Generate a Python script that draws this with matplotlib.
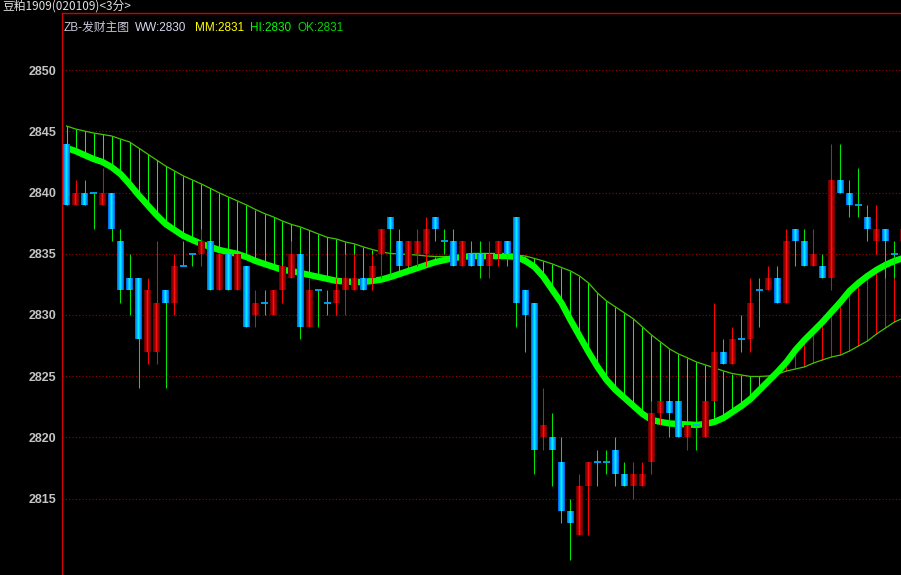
import matplotlib
matplotlib.use('Agg')
import matplotlib.pyplot as plt
import numpy as np

# ---------------- data ----------------
opens = [2844, 2839, 2840, 2840, 2839, 2840, 2836, 2833, 2833, 2827,
         2827, 2832, 2831, 2834, 2835, 2835, 2836, 2832, 2835, 2832,
         2834, 2830, 2831, 2830, 2832, 2833, 2835, 2829, 2832, 2831,
         2831, 2832, 2832, 2833, 2833, 2835, 2838, 2836, 2834, 2835,
         2835, 2838, 2836, 2836, 2834, 2835, 2835, 2834, 2835, 2836,
         2838, 2832, 2831, 2820, 2820, 2818, 2814, 2812, 2816, 2818,
         2818, 2819, 2817, 2816, 2816, 2818, 2822, 2823, 2823, 2820,
         2821, 2820, 2823, 2827, 2826, 2828, 2828, 2832, 2832, 2833,
         2831, 2837, 2836, 2834, 2834, 2833, 2841, 2840, 2839, 2838,
         2836, 2837, 2835, 2836]
highs = [2844, 2841, 2841, 2840, 2842, 2840, 2837, 2835, 2833, 2833,
         2836, 2832, 2835, 2836, 2835, 2837, 2836, 2835, 2835, 2835,
         2834, 2832, 2832, 2832, 2834, 2836, 2835, 2833, 2832, 2832,
         2833, 2835, 2835, 2833, 2835, 2837, 2838, 2837, 2836, 2837,
         2838, 2838, 2837, 2837, 2836, 2836, 2836, 2836, 2836, 2836,
         2838, 2832, 2831, 2824, 2822, 2820, 2815, 2817, 2818, 2819,
         2819, 2820, 2818, 2818, 2818, 2823, 2823, 2823, 2823, 2821,
         2821, 2823, 2831, 2828, 2829, 2830, 2833, 2833, 2834, 2834,
         2837, 2837, 2837, 2837, 2835, 2844, 2844, 2841, 2842, 2839,
         2839, 2837, 2836, 2837]
lows = [2839, 2839, 2839, 2837, 2839, 2836, 2831, 2830, 2824, 2826,
        2826, 2824, 2830, 2834, 2834, 2834, 2832, 2832, 2832, 2832,
        2829, 2829, 2830, 2830, 2831, 2833, 2828, 2829, 2829, 2830,
        2830, 2830, 2832, 2832, 2832, 2833, 2833, 2834, 2834, 2834,
        2834, 2836, 2835, 2834, 2834, 2834, 2833, 2833, 2834, 2834,
        2829, 2827, 2817, 2819, 2816, 2813, 2810, 2812, 2812, 2816,
        2817, 2816, 2816, 2815, 2816, 2817, 2821, 2820, 2820, 2819,
        2819, 2820, 2823, 2826, 2826, 2827, 2827, 2829, 2832, 2831,
        2831, 2834, 2834, 2834, 2833, 2832, 2840, 2838, 2838, 2836,
        2835, 2833, 2833, 2836]
closes = [2839, 2840, 2839, 2840, 2840, 2837, 2832, 2832, 2828, 2832,
          2831, 2831, 2834, 2834, 2835, 2836, 2832, 2835, 2832, 2835,
          2829, 2831, 2831, 2832, 2834, 2835, 2829, 2832, 2832, 2831,
          2832, 2833, 2833, 2832, 2834, 2837, 2837, 2834, 2836, 2836,
          2837, 2837, 2836, 2834, 2836, 2834, 2834, 2835, 2836, 2835,
          2831, 2830, 2819, 2821, 2819, 2814, 2813, 2816, 2818, 2818,
          2818, 2817, 2816, 2817, 2817, 2822, 2823, 2822, 2820, 2821,
          2821, 2823, 2827, 2826, 2828, 2828, 2831, 2832, 2833, 2831,
          2836, 2836, 2834, 2835, 2833, 2841, 2840, 2839, 2839, 2837,
          2837, 2836, 2835, 2837]

# thick bright-green indicator line
fast_line = [2843.64, 2843.39, 2843.06, 2842.74, 2842.49, 2842.08, 2841.51, 2840.69, 2839.80, 2838.98,
             2838.16, 2837.43, 2836.94, 2836.45, 2836.12, 2835.80, 2835.55, 2835.30, 2835.14, 2834.98,
             2834.73, 2834.41, 2834.16, 2833.92, 2833.67, 2833.59, 2833.43, 2833.26, 2833.10, 2832.94,
             2832.78, 2832.73, 2832.69, 2832.69, 2832.78, 2832.89, 2833.10, 2833.34, 2833.59, 2833.83,
             2834.08, 2834.32, 2834.48, 2834.65, 2834.73, 2834.81, 2834.81, 2834.81, 2834.81, 2834.81,
             2834.73, 2834.41, 2833.92, 2833.10, 2832.03, 2830.97, 2829.58, 2828.28, 2826.97, 2825.75,
             2824.69, 2823.87, 2823.22, 2822.56, 2821.91, 2821.42, 2821.26, 2821.13, 2821.09, 2821.05,
             2821.01, 2821.09, 2821.26, 2821.58, 2822.07, 2822.56, 2823.13, 2823.87, 2824.60, 2825.34,
             2826.15, 2827.13, 2827.95, 2828.68, 2829.42, 2830.24, 2831.05, 2831.95, 2832.61, 2833.18,
             2833.67, 2834.08, 2834.41, 2834.65]
# thin darker-green indicator line
slow_line = [2845.43, 2845.19, 2845.02, 2844.86, 2844.74, 2844.62, 2844.37, 2844.13, 2843.64, 2843.15,
             2842.66, 2842.17, 2841.76, 2841.35, 2841.02, 2840.69, 2840.33, 2839.96, 2839.63, 2839.31,
             2838.98, 2838.61, 2838.28, 2838.00, 2837.67, 2837.39, 2837.18, 2836.90, 2836.61, 2836.33,
             2836.20, 2835.96, 2835.80, 2835.55, 2835.34, 2835.14, 2835.02, 2834.98, 2834.93, 2834.89,
             2834.81, 2834.77, 2834.77, 2834.77, 2834.81, 2834.81, 2834.81, 2834.85, 2834.89, 2834.89,
             2834.89, 2834.81, 2834.61, 2834.40, 2834.16, 2833.87, 2833.59, 2833.18, 2832.61, 2831.79,
             2831.14, 2830.65, 2830.16, 2829.67, 2829.01, 2828.36, 2827.79, 2827.22, 2826.81, 2826.49,
             2826.15, 2825.91, 2825.67, 2825.42, 2825.21, 2825.09, 2824.97, 2824.97, 2825.01, 2825.17,
             2825.42, 2825.58, 2825.75, 2826.07, 2826.32, 2826.56, 2826.72, 2827.05, 2827.46, 2827.87,
             2828.44, 2828.93, 2829.42, 2829.75]

yticks = [2815, 2820, 2825, 2830, 2835, 2840, 2845, 2850]
title_text = '豆粕1909(020109)<3分>'
legend_items = [('ZB-发财主图', '#c8c8d8', 64),
                ('WW:2830', '#d8d8f0', 135),
                ('MM:2831', '#ffff00', 195),
                ('HI:2830', '#00ff00', 250),
                ('OK:2831', '#00d800', 298)]

# ---------------- figure ----------------
W, H = 901, 575
fig = plt.figure(figsize=(W / 100, H / 100), dpi=100, facecolor='black')
top_px = 12.5
ax = fig.add_axes([62 / W, 0, (W - 62) / W, (H - top_px) / H])
ax.set_facecolor('black')

o = np.array(opens, float); h = np.array(highs, float)
l = np.array(lows, float); c = np.array(closes, float)
x = np.arange(len(o))
fast = np.array(fast_line); slow = np.array(slow_line)

# grid
for t in yticks:
    ax.axhline(t, color='#a00000', lw=0.8, ls=(0, (1, 2)), zorder=0)

# hatch between the two lines
hcol = np.where(slow >= fast, '#00ff00', '#ff0000')
ax.vlines(x, np.minimum(slow, fast), np.maximum(slow, fast), colors=hcol, lw=0.75, zorder=1)
ax.plot(x, slow, color='#44c400', lw=0.9, zorder=2)
ax.plot(x, fast, color='#00ff00', lw=4.6, zorder=2, solid_capstyle='butt')

up = c > o
dn = c < o
dj = c == o

# wicks
wcol = np.where(up, '#ff0000', '#00e600')
ax.vlines(x, l, h, colors=wcol, lw=0.75, zorder=3)

# bodies with gradient stripes
red_cols = ['#6c0000', '#8c0000', '#c00000', '#ff1010', '#c00000', '#8c0000', '#6c0000']
blue_cols = ['#0070f0', '#0098ff', '#00c8ff', '#00eeff', '#00c0ff', '#0090ff', '#0068e0']
sw = 1 / 9
for j in range(7):
    off = (j - 3) * sw
    ax.bar(x[up] + off, (c - o)[up], bottom=o[up], width=sw * 1.05,
           color=red_cols[j], lw=0, zorder=4)
    ax.bar(x[dn] + off, (o - c)[dn], bottom=c[dn], width=sw * 1.05,
           color=blue_cols[j], lw=0, zorder=4)
ax.hlines(c[dj], x[dj] - 3.5 * sw, x[dj] + 3.5 * sw, colors='#00a8ff', lw=1.3, zorder=4)

# axes
ybot = 2845 - (H - 131.3) / 12.24
ytop = 2845 + (131.3 - top_px) / 12.24
ax.set_ylim(ybot, ytop)
ax.set_xlim((62 - 66.5) / 9, (W - 66.5) / 9)
ax.set_xticks([])
ax.set_yticks(yticks)
ax.set_yticklabels([str(t) for t in yticks], family=['Liberation Sans', 'DejaVu Sans'],
                   fontweight='bold')
ax.tick_params(axis='y', length=0, pad=4, colors='#c4c4c4', labelsize=9)
for s in ['right', 'bottom']:
    ax.spines[s].set_visible(False)
for s in ['left', 'top']:
    ax.spines[s].set_color('#d00000')
    ax.spines[s].set_linewidth(1.0)

# texts
fig.text(2 / W, 1 - 6.5 / H, title_text, ha='left', va='center', color='#e0e0e0',
         fontsize=8.5, family=['Noto Sans CJK SC', 'DejaVu Sans'])
for txt, col, px in legend_items:
    fig.text(px / W, 1 - 28 / H, txt, ha='left', va='center', color=col,
             fontsize=8.5, family=['Liberation Sans', 'Noto Sans CJK SC'])

fig.savefig('out.png', dpi=100, facecolor='black')
